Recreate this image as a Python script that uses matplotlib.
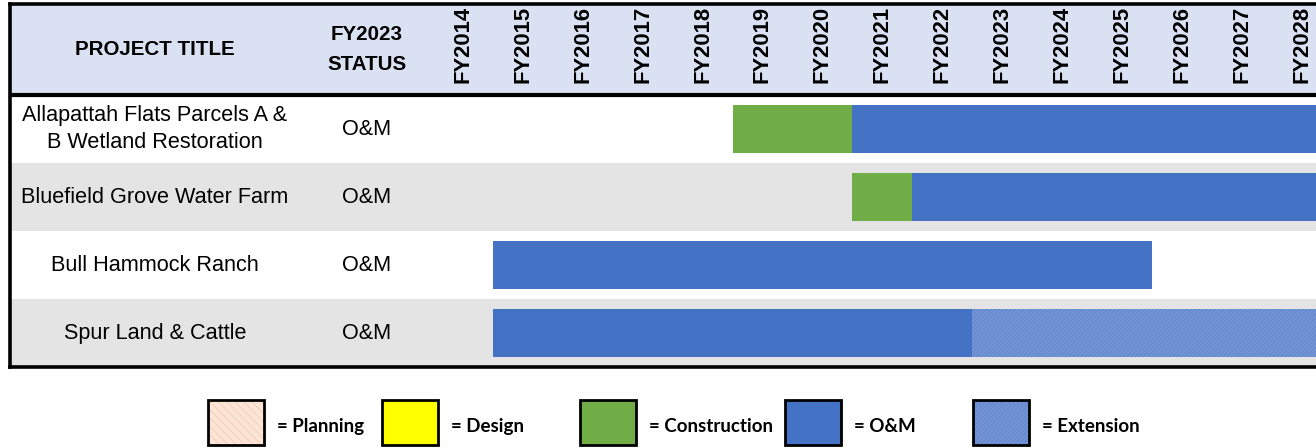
import matplotlib.pyplot as plt
from matplotlib.patches import Rectangle

# table rows
projects = ["Allapattah Flats Parcels A &\nB Wetland Restoration",
            "Bluefield Grove Water Farm",
            "Bull Hammock Ranch",
            "Spur Land & Cattle"]
status = ["O&M", "O&M", "O&M", "O&M"]
years = list(range(2014, 2029))

# schedule segments: row, phase, first FY, last FY
seg_row = [0, 0, 1, 1, 2, 3, 3]
seg_phase = ["Construction", "O&M", "Construction", "O&M", "O&M", "O&M", "Extension"]
seg_start = [2019, 2021, 2021, 2022, 2015, 2015, 2023]
seg_end = [2020, 2028, 2021, 2028, 2025, 2022, 2028]

legend_names = ["Planning", "Design", "Construction", "O&M", "Extension"]

styles = {
    "Planning": dict(facecolor="#FCE4D6", hatch="\\\\\\\\", edgecolor="#F4C7AA"),
    "Design": dict(facecolor="#FFFF00"),
    "Construction": dict(facecolor="#70AD47"),
    "O&M": dict(facecolor="#4472C4"),
    "Extension": dict(facecolor="#7394D4", hatch="////////", edgecolor="#5F82CB"),
}

plt.rcParams['font.family'] = ['Liberation Sans', 'DejaVu Sans']
plt.rcParams['hatch.linewidth'] = 0.5

W, H = 1316, 448
fig = plt.figure(figsize=(W / 100, H / 100), dpi=100)

# main table axes (pixel rectangle 10..1316 x 4..367)
ax = fig.add_axes([10 / W, (H - 367) / H, 1 - 10 / W, (367 - 4) / H])
col_w = 59.9
x0 = 2014 - (433 - 10) / col_w
x1 = x0 + (W - 10) / col_w
hdr = (95 - 4) / 68.0
ax.set_xlim(x0, x1)
ax.set_ylim(len(projects), -hdr)
ax.set_xticks([])
ax.set_yticks([])
for s in ["top", "bottom", "left"]:
    ax.spines[s].set_linewidth(2.6)
ax.spines["right"].set_visible(False)

# backgrounds
ax.axhspan(-hdr, 0, color="#D9E1F2", lw=0, zorder=0)
for i in range(len(projects)):
    if i % 2 == 1:
        ax.axhspan(i, i + 1, color="#E4E4E4", lw=0, zorder=0)
ax.axhline(0, color="black", lw=3, zorder=5)

title_x = 2014 - (433 - 155) / col_w
status_x = 2014 - (433 - 367) / col_w

ax.text(title_x, -hdr / 2, "PROJECT TITLE", ha="center", va="center",
        fontsize=14.8, fontweight="bold")
ax.text(status_x, -hdr / 2, "FY2023\nSTATUS", ha="center", va="center",
        fontsize=14.8, fontweight="bold", linespacing=1.75)
for y in years:
    ax.text(y + 0.5, -hdr / 2 - 0.07, f"FY{y}", ha="center", va="center",
            rotation=90, fontsize=15.8, fontweight="bold")

for i, (p, s) in enumerate(zip(projects, status)):
    ax.text(title_x, i + 0.5, p, ha="center", va="center", fontsize=15.6,
            linespacing=1.4)
    ax.text(status_x, i + 0.5, s, ha="center", va="center", fontsize=15.6)

bar_h = 0.7
for r, ph, a, b in zip(seg_row, seg_phase, seg_start, seg_end):
    ax.barh(r + 0.5, b + 1 - a, left=a, height=bar_h, linewidth=0,
            zorder=3, **styles[ph])

# legend strip
lax = fig.add_axes([0, 0, 1, 80 / H])
lax.set_xlim(0, W)
lax.set_ylim(H, H - 80)
lax.axis("off")
box_x = [208, 382, 580, 785, 973]
for name, bx in zip(legend_names, box_x):
    lax.add_patch(Rectangle((bx, 400), 56, 45, linewidth=0, **styles[name]))
    lax.add_patch(Rectangle((bx, 400), 56, 45, fill=False, edgecolor="black",
                            linewidth=2))
    lax.text(bx + 69, 426, "= " + name, ha="left", va="center",
             fontsize=13.5, fontweight="bold", family=["Lato", "DejaVu Sans"])

fig.savefig("out.png", dpi=100)
